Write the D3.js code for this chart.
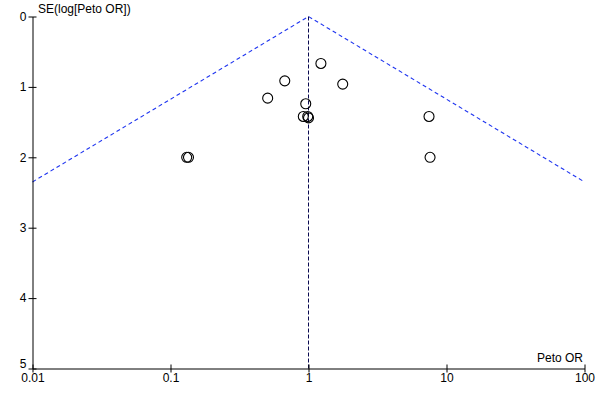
<!DOCTYPE html>
<html>
<head>
<meta charset="utf-8">
<script src="https://cdn.jsdelivr.net/npm/d3@7"></script>
<style>
  html, body { margin: 0; padding: 0; background: #fff; }
  svg { display: block; }
  text { font-family: "Liberation Sans", Arial, sans-serif; font-size: 12px; fill: #000; }
</style>
</head>
<body>
<svg id="chart" width="600" height="400"></svg>
<script>
// Study estimates (Peto OR) and their standard errors
const studyOR = [1.23, 0.673, 1.77, 0.506, 0.955, 0.917, 0.987, 1.0, 7.47, 0.131, 0.135, 7.6];
const studySE = [0.667, 0.914, 0.96, 1.16, 1.24, 1.42, 1.42, 1.44, 1.42, 2.0, 2.0, 2.0];
// Pooled estimate and funnel (pseudo 95% CI) outline
const pooledOR = 1.0;
const funnelOR = [0.01, 1.0, 100];
const funnelSE = [2.35, 0, 2.35];
// Axis ticks
const xTicks = [0.01, 0.1, 1, 10, 100];
const xTickLabels = ["0.01", "0.1", "1", "10", "100"];
const yTicks = [0, 1, 2, 3, 4, 5];
const xTitle = "Peto OR";
const yTitle = "SE(log[Peto OR])";

const svg = d3.select("#chart");
const x = d3.scaleLog().domain([0.01, 100]).range([32.5, 584.5]);
const y = d3.scaleLinear().domain([0, 5]).range([16.5, 368.5]);

// Funnel lines
const funnel = funnelOR.map((o, i) => [o, funnelSE[i]]);
svg.append("path")
  .attr("d", d3.line().x(d => x(d[0])).y(d => y(d[1]))(funnel))
  .attr("fill", "none")
  .attr("stroke", "#1f35f0")
  .attr("stroke-width", 1.1)
  .attr("stroke-dasharray", "4,3");

// Pooled vertical line
svg.append("line")
  .attr("x1", x(pooledOR)).attr("x2", x(pooledOR))
  .attr("y1", y(0)).attr("y2", y(5))
  .attr("stroke", "#0a0a50")
  .attr("stroke-width", 1)
  .attr("stroke-dasharray", "4,2");

// Axes
const xAxis = d3.axisBottom(x).tickValues(xTicks)
  .tickFormat((d, i) => xTickLabels[i]).tickSizeInner(4).tickSizeOuter(0).tickPadding(1);
const gx = svg.append("g").attr("transform", `translate(0,${y(5)})`).call(xAxis);
gx.select(".domain").attr("stroke", "#000");
gx.selectAll(".tick line").attr("y1", -4).attr("y2", 4).attr("stroke", "#000");
gx.selectAll(".tick text").attr("fill", "#000").attr("dy", "0.71em").attr("y", 5);

const yAxis = d3.axisLeft(y).tickValues(yTicks).tickFormat(d3.format("d"))
  .tickSizeInner(4).tickSizeOuter(0).tickPadding(2);
const gy = svg.append("g").attr("transform", `translate(${x(0.01)},0)`).call(yAxis);
gy.select(".domain").attr("stroke", "#000");
gy.selectAll(".tick line").attr("x1", -4).attr("x2", 4).attr("stroke", "#000");
gy.selectAll(".tick text").attr("fill", "#000").attr("x", -6)
  .attr("dy", d => d === 5 ? "-0.1em" : "0.32em");

// Points
svg.append("g").selectAll("circle")
  .data(studyOR.map((o, i) => [o, studySE[i]]))
  .join("circle")
  .attr("cx", d => x(d[0]))
  .attr("cy", d => y(d[1]))
  .attr("r", 5)
  .attr("fill", "none")
  .attr("stroke", "#000")
  .attr("stroke-width", 1.1);

// Titles
svg.append("text").attr("x", 38).attr("y", 13).text(yTitle);
svg.append("text").attr("x", 583).attr("y", 362).attr("text-anchor", "end").text(xTitle);
</script>
</body>
</html>
